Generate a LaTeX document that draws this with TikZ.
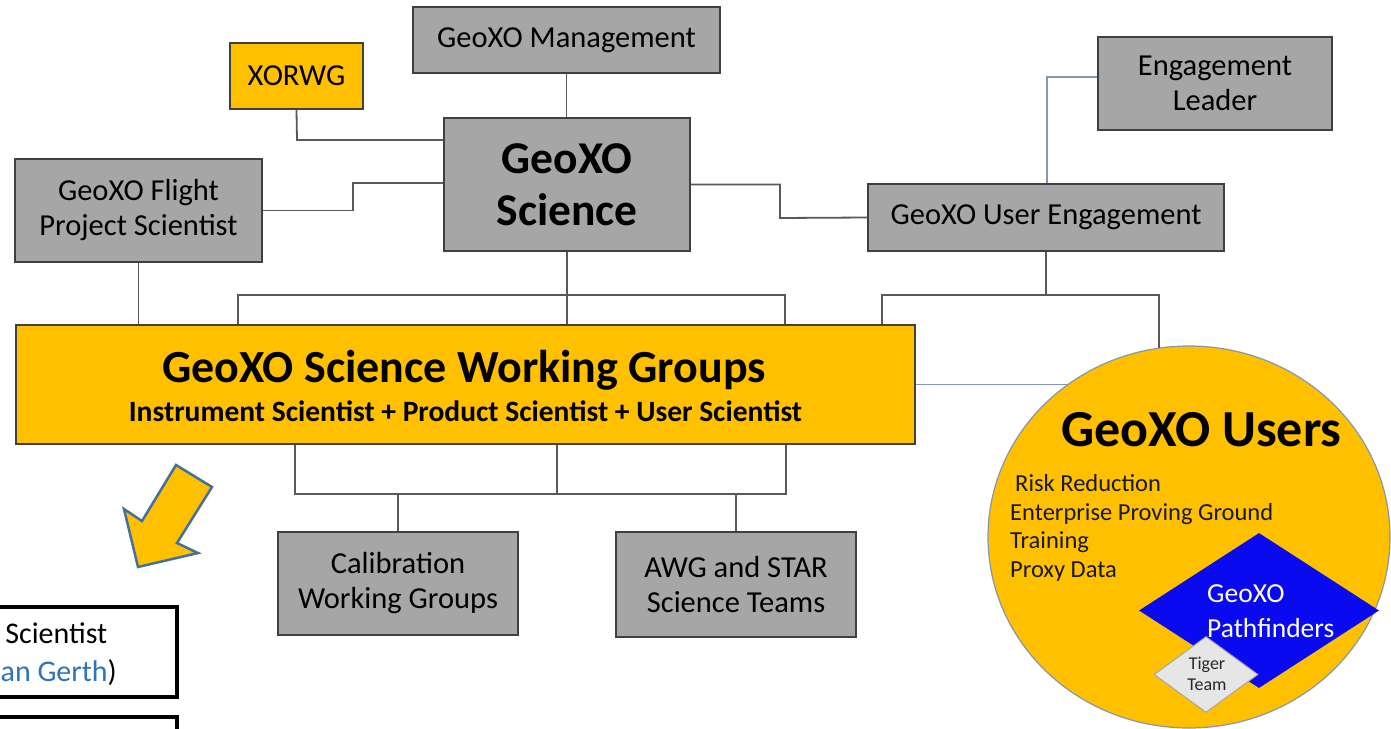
\documentclass[tikz,border=0pt]{standalone}
\usepackage{fontspec}
\setmainfont{Carlito}
\usetikzlibrary{shapes.geometric}

\definecolor{boxgrey}{HTML}{A6A6A6}
\definecolor{edgegrey}{HTML}{404040}
\definecolor{linegrey}{HTML}{595959}
\definecolor{amber}{HTML}{FFC000}
\definecolor{steel}{HTML}{41719C}
\definecolor{slate}{HTML}{8497B0}
\definecolor{pathblue}{HTML}{0A0AF0}
\definecolor{lightgrey}{HTML}{E7E6E6}
\definecolor{linkblue}{HTML}{2E75B6}

\tikzset{
  box/.style={draw=edgegrey, line width=1.5pt, fill=boxgrey, inner sep=0pt,
    align=center, text=black, font=\fontsize{30.5}{35}\selectfont},
  ambox/.style={box, fill=amber},
  conn/.style={draw=linegrey, line width=1.8pt},
  thinconn/.style={draw=slate, line width=1.5pt},
  listtext/.style={inner sep=0pt, anchor=base west, text=black!90,
    font=\fontsize{24.5}{28.7}\selectfont},
  sidetext/.style={inner sep=0pt, anchor=east, font=\fontsize{30}{35}\selectfont},
}

\begin{document}
\begin{tikzpicture}[x=1pt, y=-1pt]
\useasboundingbox (0,0) rectangle (1391,728);
\clip (0,0) rectangle (1391,728);

% ---- boxes of the organisation chart ----
\node[box, minimum width=307pt, minimum height=66pt] (mgmt) at (566.5,40) {GeoXO Management};
\node[ambox, minimum width=133pt, minimum height=66pt] (xorwg) at (296.5,76) {XORWG};
\node[box, minimum width=246pt, minimum height=133pt,
      font=\bfseries\fontsize{45.5}{52}\selectfont] (sci) at (567,184.5) {GeoXO\\Science};
\node[box, minimum width=247pt, minimum height=103pt] (fps) at (138.5,210.5) {GeoXO Flight\\Project Scientist};
\node[box, minimum width=356pt, minimum height=67pt] (ue) at (1046,217.5) {GeoXO User Engagement};
\node[box, minimum width=234pt, minimum height=93pt] (el) at (1215,83.5) {Engagement\\Leader};
\node[ambox, minimum width=899pt, minimum height=119pt] (wg) at (465.5,384.5) {};
\node[inner sep=0pt, font=\bfseries\fontsize{46}{50}\selectfont] (wgtitle) at (464,370) {GeoXO Science Working Groups};
\node[inner sep=0pt, font=\bfseries\fontsize{29.5}{33}\selectfont] (wgsub) at (465.5,411) {Instrument Scientist + Product Scientist + User Scientist};
\node[box, minimum width=240pt, minimum height=103pt] (cal) at (398,583.5) {Calibration\\Working Groups};
\node[box, minimum width=240pt, minimum height=105pt] (awg) at (736,584.5) {AWG and STAR\\Science Teams};

% ---- users disc with its list and the pathfinder diamonds ----
\node[ellipse, draw=slate, line width=1.2pt, fill=amber, inner sep=0pt,
      minimum width=402pt, minimum height=382pt] (users) at (1189,537) {};
\node[inner sep=0pt, font=\bfseries\fontsize{52}{56}\selectfont] (userstitle) at (1201.5,430) {GeoXO Users};
\node[listtext] (l1) at (1015,491) {Risk Reduction};
\node[listtext] (l2) at (1010,520) {Enterprise Proving Ground};
\node[listtext] (l3) at (1010,548.5) {Training};
\node[listtext] (l4) at (1010,577) {Proxy Data};
\node[diamond, fill=pathblue, inner sep=0pt, minimum width=240pt, minimum height=155pt] (pf) at (1259,610.5) {};
\node[inner sep=0pt, anchor=west, align=left, text=white,
      font=\fontsize{27.5}{35}\selectfont] (pftext) at (1207,611) {GeoXO\\Pathfinders};
\node[diamond, draw=boxgrey, line width=1pt, fill=lightgrey, inner sep=0pt,
      minimum width=104pt, minimum height=76pt] (tiger) at (1206,674.5) {};
\node[inner sep=0pt, align=center, text=black!85,
      font=\fontsize{18}{21}\selectfont] (tigertext) at (1207,674) {Tiger\\Team};

% ---- connectors ----
\draw[conn] (mgmt.south) -- (mgmt.south |- sci.north);

\coordinate (xj) at (297,140);
\draw[conn] (xorwg.south) -- (xj) -- (xj -| sci.west);

\coordinate (fj) at (353,183);
\draw[conn] (fps.east) -| (fj) -- (fj -| sci.west);
\draw[conn] (fps.south) -- (fps.south |- wg.north);

\coordinate (sj) at (780,218);
\draw[conn] (sci.east) -| (sj) -- (ue.west);

\coordinate (ej) at (1047,77);
\draw[thinconn] (ej |- ue.north) -- (ej) -- (ej -| el.west);

% bracket between the science box and the working groups
\coordinate (tbl) at (238,295);
\coordinate (tbr) at (785,295);
\draw[conn] (tbl |- wg.north) -- (tbl) -- (tbr) -- (tbr |- wg.north);
\draw[conn] (sci.south) -- (sci.south |- wg.north);

% bracket below user engagement
\coordinate (ubl) at (882,295);
\coordinate (ubr) at (1159,295);
\draw[conn] (ue.south) -- (ue.south |- ubl);
\draw[conn] (ubl |- wg.north) -- (ubl) -- (ubr) -- (ubr |- users.99);

\draw[thinconn] (wg.east) -- (wg.east -| users.128);

% bracket below the working groups
\coordinate (bbl) at (295,494);
\coordinate (bbm) at (557,494);
\coordinate (bbr) at (786,494);
\draw[conn] (bbl |- wg.south) -- (bbl) -- (bbr) -- (bbr |- wg.south);
\draw[conn] (bbm |- wg.south) -- (bbm);
\draw[conn] (cal.north) -- (cal.north |- bbl);
\draw[conn] (awg.north) -- (awg.north |- bbr);

% ---- block arrow pointing down-left ----
\draw[fill=amber, draw=steel, line width=2.5pt, line join=miter]
  (176,465) -- (212,487) -- (177,543) -- (198,553) -- (138,567)
  -- (124,509) -- (142,521) -- cycle;

% ---- boxes running off the lower left edge ----
\draw[black, line width=4pt] (-10,607) rectangle (177,697);
\draw[black, line width=4pt] (-10,717) rectangle (177,760);
\node[sidetext] (sc) at (107.5,633) {Scientist};
\node[sidetext] (ger) at (117,673) {\textcolor{linkblue}{an Gerth})};

\end{tikzpicture}
\end{document}
